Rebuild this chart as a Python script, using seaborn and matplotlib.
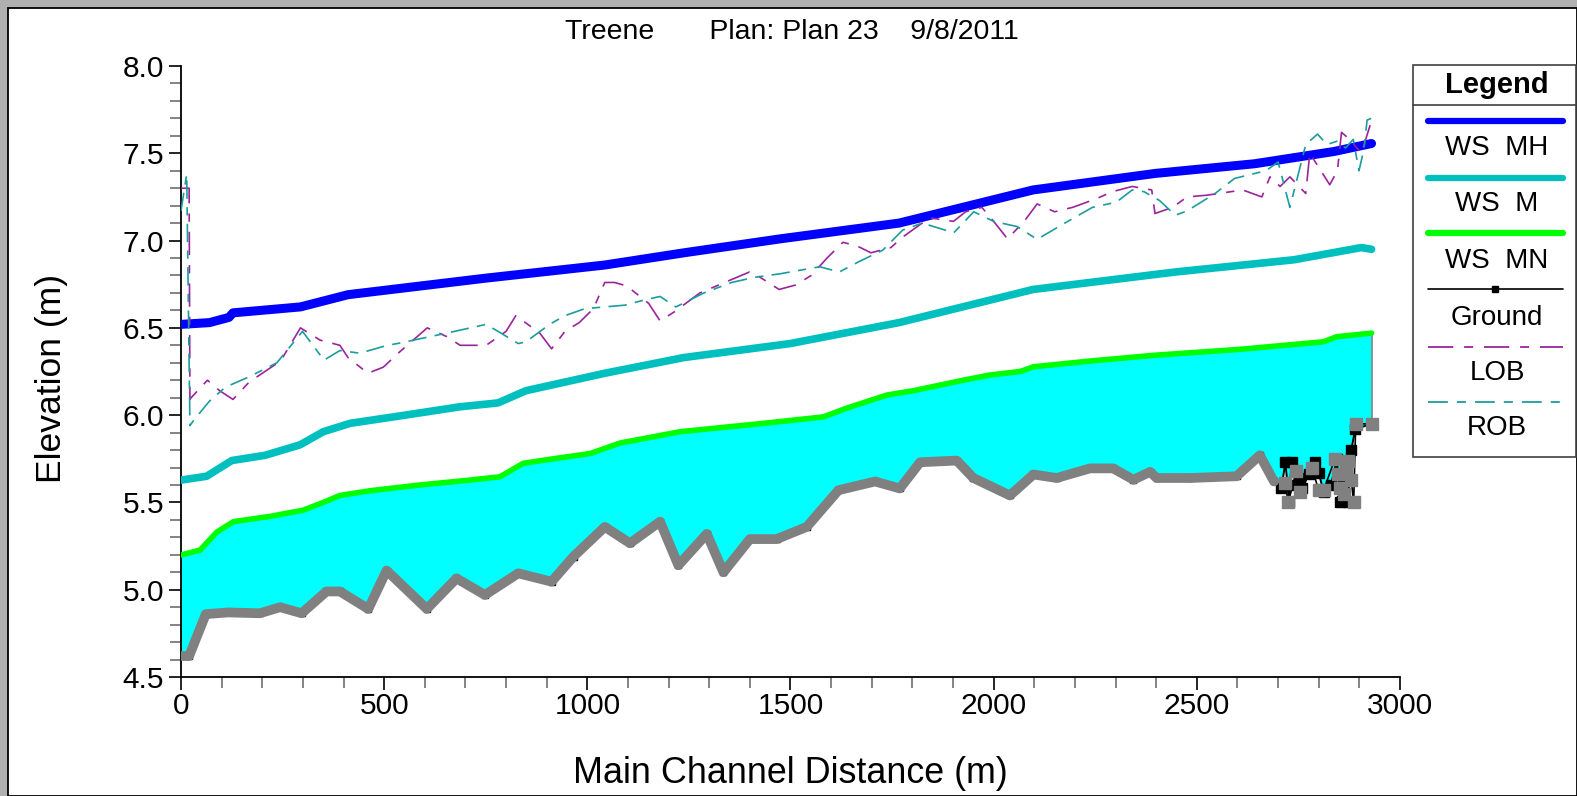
import numpy as np
import matplotlib
matplotlib.use("Agg")
import matplotlib.pyplot as plt
import seaborn as sns
from matplotlib.lines import Line2D
from matplotlib.patches import Rectangle

sns.set_theme(style="white")
plt.rcParams['font.family'] = ['Liberation Sans', 'DejaVu Sans']
plt.rcParams['text.color'] = 'black'
plt.rcParams['axes.labelcolor'] = 'black'

# ---------------- data ----------------
title_text = "Treene       Plan: Plan 23    9/8/2011"
x_label = "Main Channel Distance (m)"
y_label = "Elevation (m)"
legend_labels = ["WS  MH", "WS  M", "WS  MN", "Ground", "LOB", "ROB"]

mh_x = [0, 70, 118, 128, 294, 411, 751, 1043, 1238, 1475, 1767, 2097, 2399, 2642, 2837, 2930]
mh_y = [6.52, 6.53, 6.56, 6.586, 6.62, 6.69, 6.785, 6.86, 6.93, 7.01, 7.10, 7.29, 7.385, 7.44, 7.51, 7.556]

m_x = [0, 63, 125, 207, 293, 350, 416, 523, 687, 780, 849, 1043, 1238, 1499, 1767, 2097, 2447, 2739, 2905, 2930]
m_y = [5.628, 5.65, 5.74, 5.77, 5.83, 5.905, 5.953, 5.99, 6.048, 6.07, 6.14, 6.24, 6.33, 6.41, 6.53, 6.72, 6.82, 6.89, 6.96, 6.95]

mn_x = [0, 47, 88, 129, 219, 301, 350, 391, 465, 588, 711, 785, 842, 916, 1007, 1080,
        1228, 1433, 1581, 1638, 1737, 1802, 1925, 1991, 2065, 2098, 2237, 2401, 2606, 2811, 2844, 2930]
mn_y = [5.199, 5.227, 5.33, 5.39, 5.42, 5.456, 5.50, 5.54, 5.567, 5.60, 5.628, 5.647, 5.724, 5.75, 5.78, 5.84,
        5.905, 5.953, 5.99, 6.04, 6.115, 6.14, 6.20, 6.23, 6.25, 6.277, 6.31, 6.344, 6.377, 6.42, 6.449, 6.47]

ground_x = [0, 20, 61, 116, 194, 244, 297, 358, 391, 461,
            506, 605, 678, 748, 830, 912, 966, 1043, 1105, 1179,
            1224, 1294, 1335, 1400, 1466, 1540, 1618, 1708, 1769, 1819,
            1909, 1950, 2040, 2098, 2155, 2237, 2294, 2344, 2385, 2401,
            2483, 2598, 2655, 2690,
            2708, 2718, 2727, 2733, 2745, 2752, 2760, 2775, 2790, 2800,
            2812, 2830, 2845, 2852, 2858, 2864, 2872, 2880, 2890, 2930]
ground_y = [4.62, 4.62, 4.86, 4.87, 4.865, 4.90, 4.865, 4.99, 4.99, 4.89,
            5.11, 4.89, 5.065, 4.97, 5.094, 5.046, 5.19, 5.36, 5.266, 5.39,
            5.14, 5.32, 5.10, 5.29, 5.29, 5.36, 5.57, 5.62, 5.58, 5.73,
            5.74, 5.64, 5.54, 5.66, 5.64, 5.695, 5.695, 5.63, 5.675, 5.64,
            5.64, 5.65, 5.77, 5.62,
            5.58, 5.73, 5.50, 5.73, 5.60, 5.64, 5.58, 5.66, 5.73, 5.67,
            5.56, 5.60, 5.75, 5.50, 5.51, 5.62, 5.50, 5.80, 5.92, 5.95]
ground_smooth_end = 2690

gray_x = [2717, 2725, 2745, 2754, 2783, 2800, 2812, 2840, 2847, 2852,
          2862, 2868, 2872, 2880, 2886, 2891, 2930]
gray_y = [5.61, 5.50, 5.68, 5.56, 5.70, 5.57, 5.57, 5.75, 5.66, 5.58,
          5.55, 5.68, 5.74, 5.63, 5.50, 5.95, 5.95]

lob_x = [0, 20, 22, 25, 65, 95, 128, 168, 245, 294,
         342, 391, 411, 460, 498, 537, 606, 654, 687, 751,
         800, 824, 883, 912, 945, 980, 1015, 1043, 1067, 1097,
         1151, 1179, 1213, 1277, 1399, 1425, 1472, 1512, 1551, 1590,
         1629, 1663, 1698, 1747, 1776, 1824, 1843, 1901, 1931, 1971,
         2000, 2034, 2075, 2107, 2150, 2194, 2253, 2292, 2341, 2389,
         2397, 2440, 2476, 2525, 2613, 2660, 2680, 2705, 2729, 2768,
         2778, 2827, 2846, 2856, 2876, 2905, 2929]
lob_y = [7.30, 7.30, 6.09, 6.10, 6.20, 6.14, 6.09, 6.19, 6.31, 6.50,
         6.43, 6.40, 6.33, 6.24, 6.275, 6.36, 6.50, 6.45, 6.40, 6.40,
         6.48, 6.57, 6.47, 6.38, 6.48, 6.53, 6.61, 6.76, 6.76, 6.74,
         6.64, 6.54, 6.59, 6.70, 6.82, 6.79, 6.72, 6.745, 6.80, 6.90,
         6.99, 6.97, 6.93, 6.96, 7.02, 7.10, 7.13, 7.11, 7.165, 7.19,
         7.11, 7.01, 7.11, 7.21, 7.165, 7.19, 7.24, 7.28, 7.31, 7.29,
         7.155, 7.19, 7.25, 7.26, 7.29, 7.25, 7.365, 7.31, 7.365, 7.27,
         7.50, 7.32, 7.40, 7.62, 7.58, 7.50, 7.68]

rob_x = [0, 14, 22, 31, 70, 109, 168, 236, 299, 352,
         391, 440, 508, 532, 654, 751, 780, 830, 849, 907,
         945, 994, 1092, 1141, 1179, 1218, 1287, 1355, 1413, 1475,
         1572, 1620, 1669, 1727, 1776, 1824, 1902, 1951, 2000, 2058,
         2107, 2175, 2243, 2302, 2341, 2370, 2408, 2447, 2476, 2545,
         2593, 2670, 2700, 2729, 2768, 2797, 2820, 2846, 2866, 2885,
         2899, 2911, 2919, 2929]
rob_y = [7.17, 7.38, 5.94, 5.97, 6.08, 6.16, 6.22, 6.30, 6.48, 6.315,
         6.37, 6.355, 6.40, 6.41, 6.47, 6.52, 6.48, 6.41, 6.42, 6.52,
         6.57, 6.61, 6.63, 6.66, 6.68, 6.62, 6.70, 6.76, 6.79, 6.81,
         6.85, 6.82, 6.88, 6.945, 7.06, 7.10, 7.045, 7.165, 7.11, 7.08,
         7.007, 7.10, 7.19, 7.22, 7.29, 7.28, 7.23, 7.145, 7.17, 7.27,
         7.356, 7.40, 7.45, 7.19, 7.55, 7.61, 7.55, 7.57, 7.53, 7.58,
         7.40, 7.52, 7.69, 7.70]

# ---------------- styles ----------------
C_MH = '#0000ff'
C_M = '#00bfbf'
C_MN = '#00ff00'
C_FILL = '#00ffff'
C_GRAY = '#808080'
C_LOB = '#9b249b'
C_ROB = '#1c9c9c'
LS_LOB = (0, (14, 6, 5, 6))
LS_ROB = (0, (11, 5, 5, 5))

W, H = 1577, 796
fig = plt.figure(figsize=(W / 100, H / 100), dpi=100, facecolor='#b0b0b0')


def fx(px):
    return px / W


def fy(py):
    return 1 - py / H


bg = Rectangle((fx(8), 0), fx(W - 8), fy(8), transform=fig.transFigure,
               facecolor='white', edgecolor='black', lw=1.3, zorder=-10)
fig.patches.append(bg)

ax = fig.add_axes([fx(181), fy(677), fx(1400 - 181), (677 - 66) / H])
ax.set_facecolor('none')
ax.set_zorder(1)

# fill between WS MN and ground
poly_x = np.concatenate([np.array(mn_x, float), np.array(ground_x, float)[::-1]])
poly_y = np.concatenate([np.array(mn_y, float), np.array(ground_y, float)[::-1]])
ax.fill(poly_x, poly_y, color=C_FILL, lw=0, zorder=1)
ax.plot([ground_x[-1], ground_x[-1]], [ground_y[-1], mn_y[-1]], color=C_GRAY, lw=1.2, zorder=2)

# ground (black line with square markers)
gx = np.array(ground_x, float)
gy = np.array(ground_y, float)
mask = gx <= ground_smooth_end
ax.plot(gx, gy, color='black', lw=1.4, zorder=3)
ax.plot(gx[mask], gy[mask], ls='none', marker='s', ms=4, mfc='black', mec='black', zorder=3)
ax.plot(gx[~mask], gy[~mask], ls='none', marker='s', ms=7, mfc='black', mec='black', zorder=3)
sns.lineplot(x=gx[mask], y=gy[mask], ax=ax, color=C_GRAY, lw=7, sort=False, estimator=None, zorder=4)
ax.plot(gray_x, gray_y, color='black', lw=1.2, marker='s', ms=8, mfc=C_GRAY, mec=C_GRAY, zorder=5)

# water surfaces
sns.lineplot(x=mn_x, y=mn_y, ax=ax, color=C_MN, lw=4, sort=False, estimator=None, zorder=6)
sns.lineplot(x=m_x, y=m_y, ax=ax, color=C_M, lw=5.5, sort=False, estimator=None, zorder=6)
sns.lineplot(x=mh_x, y=mh_y, ax=ax, color=C_MH, lw=6.5, sort=False, estimator=None, zorder=6)

# banks
ax.plot(lob_x, lob_y, color=C_LOB, lw=1.2, linestyle=LS_LOB, zorder=7)
ax.plot(rob_x, rob_y, color=C_ROB, lw=1.2, linestyle=LS_ROB, zorder=7)

# axes
ax.set_xlim(0, 3000)
ax.set_ylim(4.5, 8.0)
ax.set_xticks(np.arange(0, 3001, 500))
ax.set_xticks(np.arange(0, 3001, 100), minor=True)
ax.set_yticks(np.arange(4.5, 8.01, 0.5))
ax.set_yticks(np.arange(4.5, 8.01, 0.1), minor=True)
ax.set_yticklabels([f"{v:.1f}" for v in np.arange(4.5, 8.01, 0.5)])
ax.tick_params(axis='both', which='major', direction='out', length=9, width=1.2,
               color='black', labelsize=21.5, labelcolor='black')
ax.tick_params(axis='x', which='major', pad=2)
ax.tick_params(axis='y', which='major', pad=3)
ax.tick_params(axis='both', which='minor', direction='out', length=8, width=1.2, color='#707070')
ax.tick_params(bottom=True, left=True, which='both')
for s in ['top', 'right']:
    ax.spines[s].set_visible(False)
for s in ['left', 'bottom']:
    ax.spines[s].set_color('black')
    ax.spines[s].set_linewidth(1.3)

ax.set_xlabel(x_label, fontsize=25.8, color='black')
ax.set_ylabel(y_label, fontsize=25.5, color='black')
ax.xaxis.set_label_coords((790 - 181) / 1219, (677 - 756) / 611)
ax.yaxis.set_label_coords((68 - 181) / 1219, (677 - 378) / 611)

fig.text(fx(792), fy(32), title_text, fontsize=20.5, ha='center', va='center', color='black')

# ---------------- legend (custom box) ----------------
lx0, lx1, ly0, ly1 = 1413, 1576, 65, 457
fig.patches.append(Rectangle((fx(lx0), fy(ly1)), fx(lx1 - lx0), (ly1 - ly0) / H,
                             transform=fig.transFigure, facecolor='white', edgecolor='#404040',
                             lw=1.2, zorder=10))
fig.add_artist(Line2D([fx(lx0), fx(lx1)], [fy(105), fy(105)], color='#404040', lw=1.2, zorder=11))
fig.text(fx(1497), fy(85), "Legend", fontsize=21, fontweight='bold', ha='center', va='center',
         color='black', zorder=12)

entry_styles = [
    dict(color=C_MH, lw=4.5, ls='-'),
    dict(color=C_M, lw=4.5, ls='-'),
    dict(color=C_MN, lw=4.5, ls='-'),
    dict(color='black', lw=1.2, ls='-', marker='s', ms=5, markevery=[1]),
    dict(color=C_LOB, lw=1.3, ls=LS_LOB),
    dict(color=C_ROB, lw=1.3, ls=LS_ROB),
]
line_ys = [121, 178, 233, 289, 347, 402]
text_ys = [148, 204, 261, 318, 373, 428]
for lab, st, yl, yt in zip(legend_labels, entry_styles, line_ys, text_ys):
    fig.add_artist(Line2D([fx(1428), fx(1495), fx(1563)], [fy(yl)] * 3, zorder=12,
                          solid_capstyle='round', **st))
    fig.text(fx(1497), fy(yt), lab, fontsize=20, ha='center', va='center', color='black', zorder=12)

fig.savefig('out.png', dpi=100, facecolor=fig.get_facecolor())
